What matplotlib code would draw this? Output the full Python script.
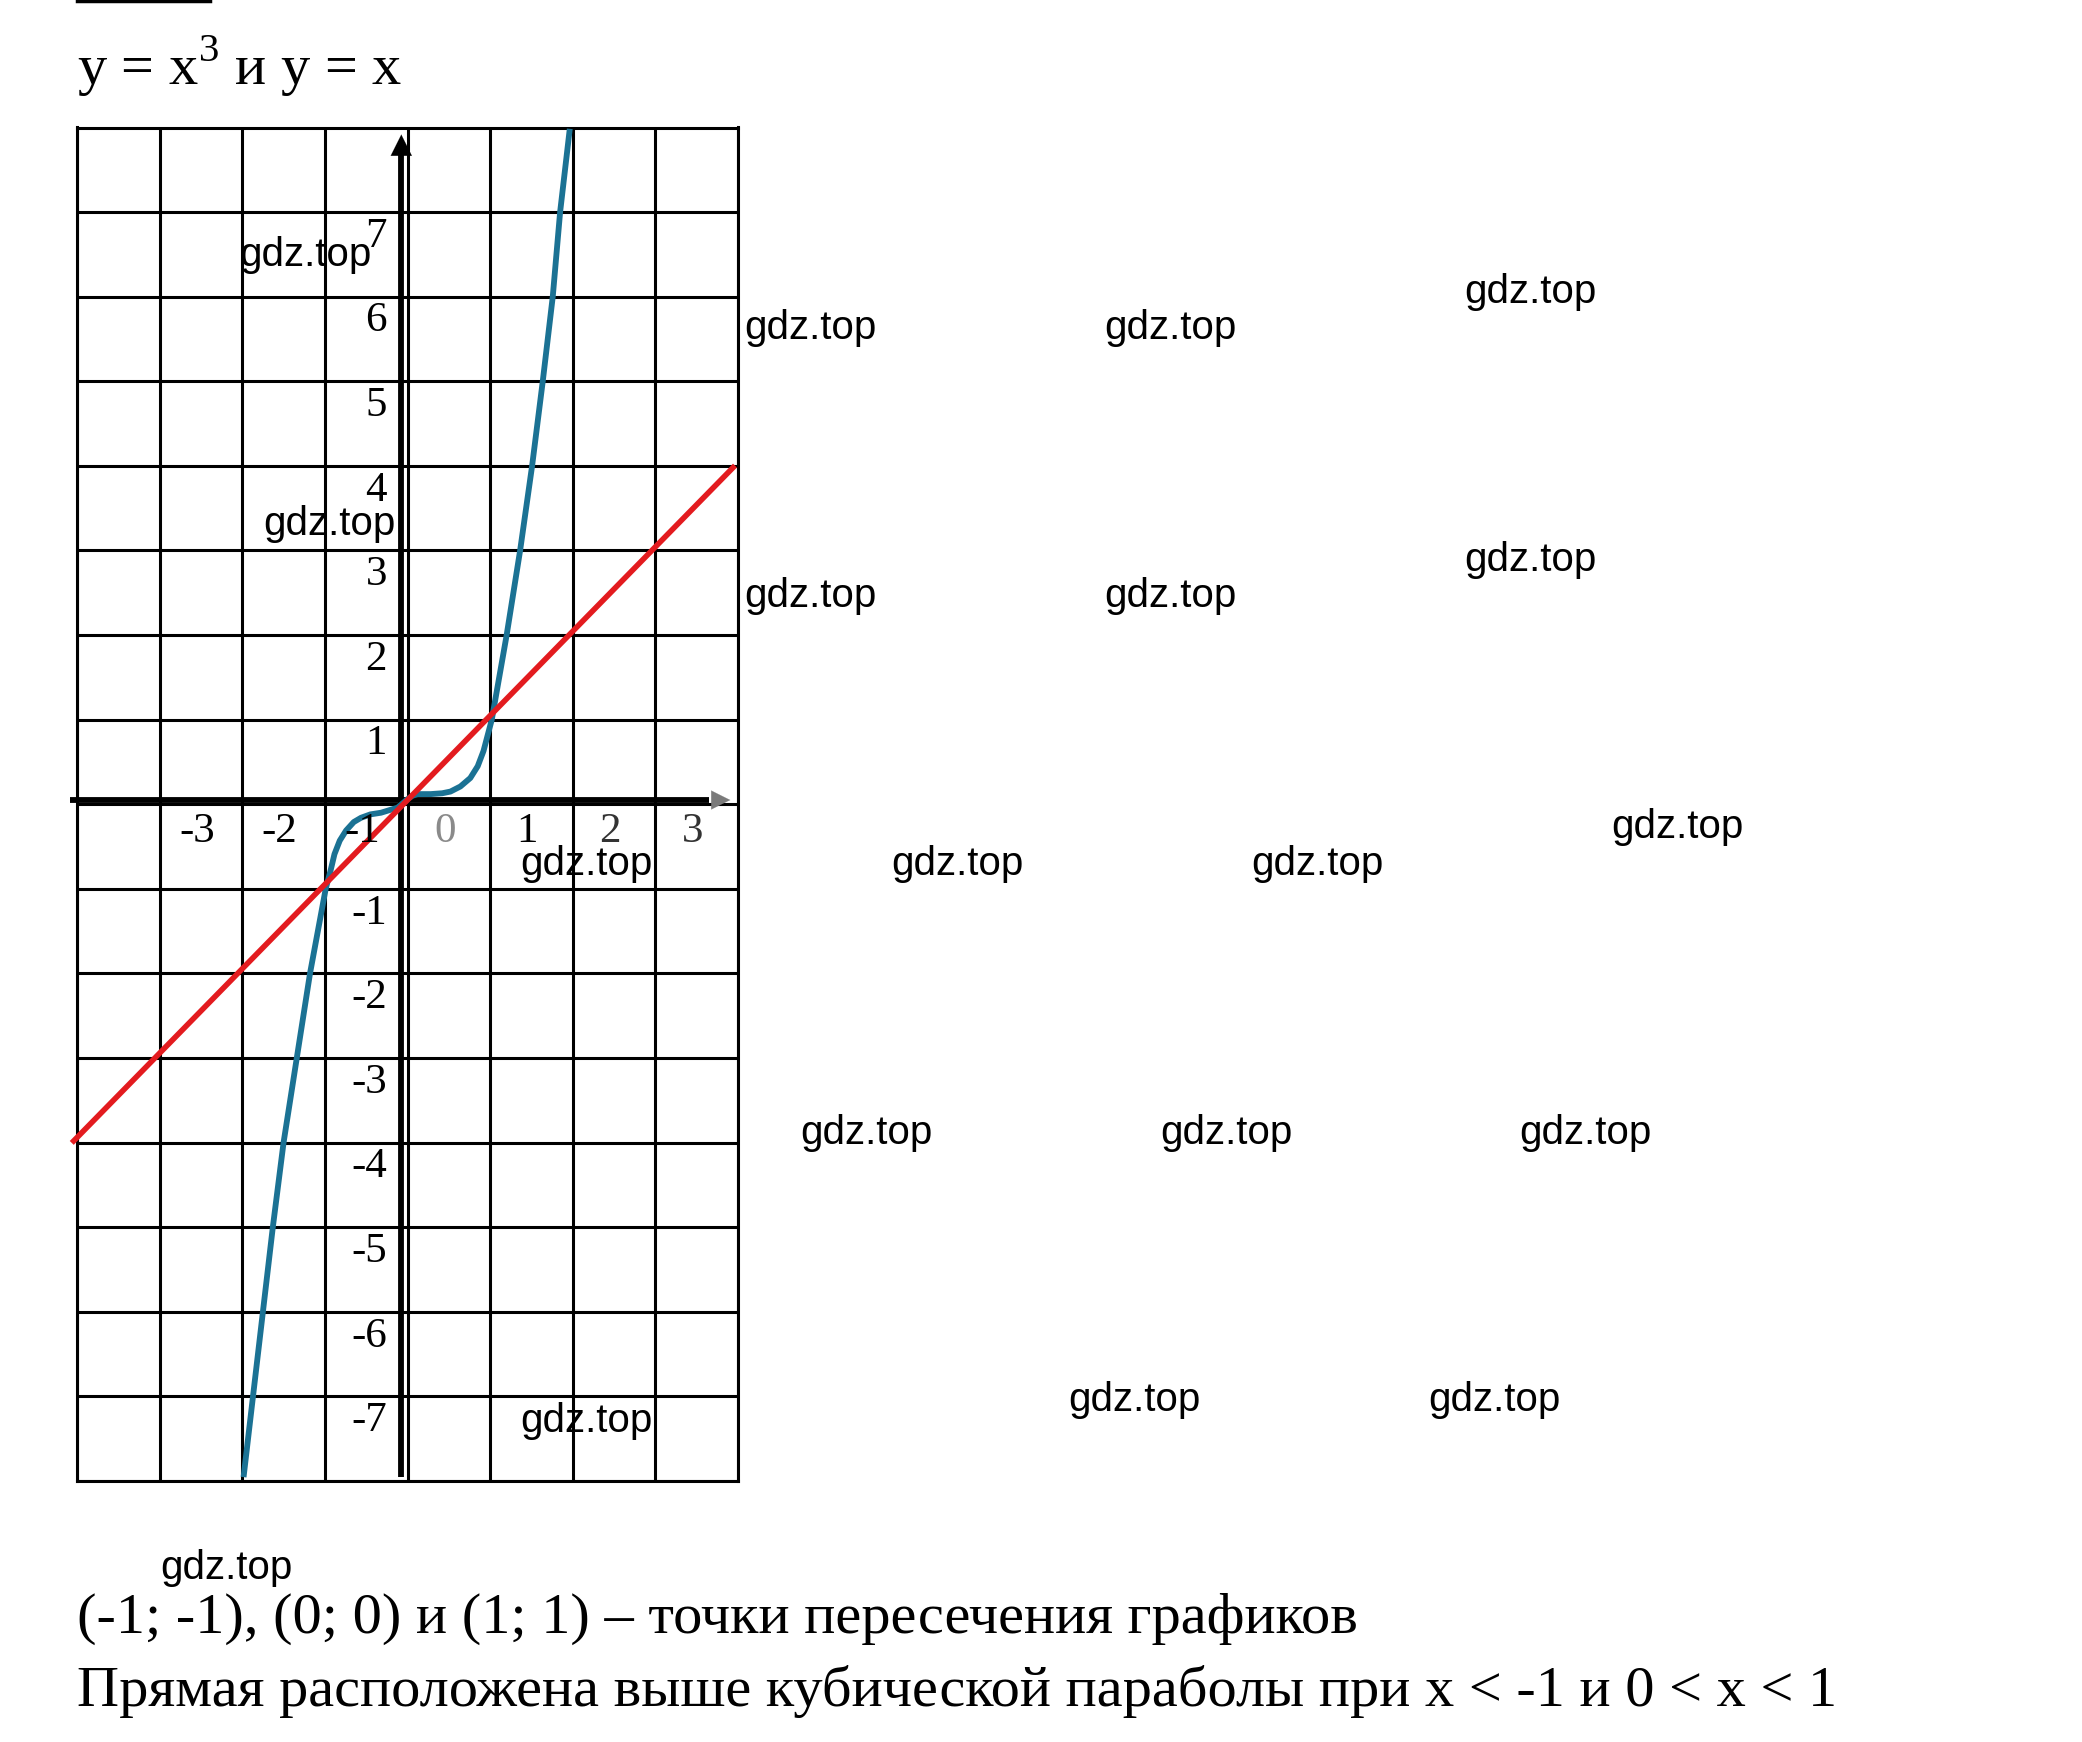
import numpy as np
import matplotlib.pyplot as plt
from matplotlib.lines import Line2D

plt.rcParams['mathtext.fontset'] = 'custom'
plt.rcParams['mathtext.rm'] = 'Liberation Serif'

W, H = 2082, 1742

# teal curve y = x^3
cube_x = [-1.98, -1.87, -1.75, -1.63, -1.50, -1.34, -1.18, -0.99, -0.93, -0.884, -0.82,
          -0.743, -0.65, -0.563, -0.45, -0.32, -0.12, 0.0, 0.06, 0.12, 0.28, 0.42, 0.52,
          0.64, 0.76, 0.85, 0.92, 1.02, 1.20, 1.363, 1.508, 1.637, 1.758, 1.847, 1.96]
cube_y = [-7.92, -7.0, -6.0, -5.0, -4.0, -3.0, -2.0, -1.0, -0.78, -0.59, -0.43,
          -0.31, -0.21, -0.16, -0.12, -0.10, -0.04, 0.06, 0.10, 0.12, 0.12, 0.13, 0.15,
          0.21, 0.31, 0.45, 0.63, 1.0, 2.0, 3.0, 4.0, 5.0, 6.0, 7.0, 7.95]

# red line y = x
line_x = [-4.04, 3.94]
line_y = [-3.98, 3.98]

xtick_vals = [-3, -2, -1, 0, 1, 2, 3]
xtick_cols = ['black', 'black', 'black', '#8a8a8a', 'black', '#333333', '#333333']
ytick_vals = [7, 6, 5, 4, 3, 2, 1, -1, -2, -3, -4, -5, -6, -7]

# watermark positions (pixels in the full picture)
wm_x = [305, 810, 1170, 1530, 329, 810, 1170, 1530, 586, 957, 1317, 1677,
        866, 1226, 1585, 586, 1134, 1494, 226]
wm_y = [255, 328, 328, 292, 524, 596, 596, 560, 864, 864, 864, 827,
        1133, 1133, 1133, 1421, 1400, 1400, 1568]

fig = plt.figure(figsize=(W / 100, H / 100), dpi=100)
fig.patch.set_facecolor('white')

left, right, top, bottom = 77, 738, 127.5, 1481
ax = fig.add_axes([left / W, 1 - bottom / H, (right - left) / W, (bottom - top) / H])
ax.set_xlim(-4, 4)
ax.set_ylim(-8, 8)
ax.set_xticks(range(-4, 5))
ax.set_yticks(range(-8, 9))
ax.grid(True, color='black', lw=2.2)
ax.tick_params(length=0, labelbottom=False, labelleft=False)
for s in ax.spines.values():
    s.set_linewidth(2.2)
    s.set_color('black')
ax.set_axisbelow(True)

# axes (slightly offset from the grid, as in the picture)
ax.plot([-0.075, -0.075], [-7.95, 7.7], color='black', lw=4.2, solid_capstyle='butt', zorder=3)
ax.annotate('', xy=(-0.075, 7.95), xytext=(-0.075, 7.6),
            arrowprops=dict(arrowstyle='-|>', color='black', lw=0.1, mutation_scale=38), zorder=3)
ax.plot([-4.09, 3.65], [0.05, 0.05], color='black', lw=4.2, solid_capstyle='butt', zorder=3,
        clip_on=False)
ax.annotate('', xy=(3.94, 0.05), xytext=(3.66, 0.05),
            arrowprops=dict(arrowstyle='-|>', color='#7a7a7a', lw=0.1, mutation_scale=34), zorder=3)

ax.plot(cube_x, cube_y, color='#1b7294', lw=4.2, zorder=4, solid_joinstyle='round')
ax.plot(line_x, line_y, color='#e31b1f', lw=4.0, zorder=5, clip_on=False)

for v, c in zip(xtick_vals, xtick_cols):
    ax.text(v + 0.45, -0.32, str(v), ha='center', va='center', fontsize=31,
            family='Liberation Serif', color=c, zorder=6)
for v in ytick_vals:
    ax.text(-0.25, v - 0.29, str(v), ha='right', va='center', fontsize=31,
            family='Liberation Serif', color='black', zorder=6)

# top line and texts
fig.add_artist(Line2D([77 / W, 210 / W], [1 - 1.5 / H, 1 - 1.5 / H], color='black', lw=2.5))
fig.text(77 / W, 1 - 84 / H, r'y = x$^{3}$ и y = x', fontsize=42, family='Liberation Serif',
         ha='left', va='baseline')
fig.text(77 / W, 1 - 1633 / H, '(-1; -1), (0; 0) и (1; 1) – точки пересечения графиков',
         fontsize=42, family='Liberation Serif', ha='left', va='baseline')
fig.text(77 / W, 1 - 1706 / H, 'Прямая расположена выше кубической параболы при x < -1 и 0 < x < 1',
         fontsize=42, family='Liberation Serif', ha='left', va='baseline')

for x, y in zip(wm_x, wm_y):
    fig.text(x / W, 1 - y / H, 'gdz.top', fontsize=29, family='Liberation Sans',
             ha='center', va='center', zorder=10)

fig.savefig('out.png', dpi=100, facecolor='white')
